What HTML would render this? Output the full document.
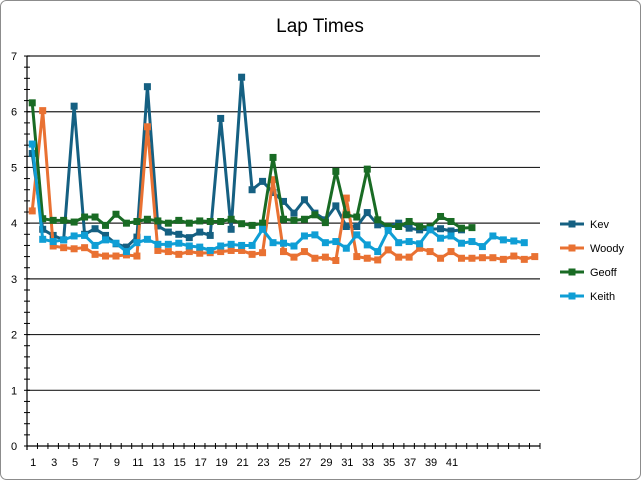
<!DOCTYPE html>
<html><head><style>body{margin:0;background:#fff}svg{display:block;font-family:"Liberation Sans",sans-serif}</style></head>
<body>
<svg id="c" width="641" height="480" xmlns="http://www.w3.org/2000/svg">
<rect x="0.5" y="0.5" width="640" height="479" rx="6" fill="#fff" stroke="#8c8c8c"/>
<text x="320" y="32" font-size="19" text-anchor="middle" fill="#000">Lap Times</text>
<g id="g"></g>
</svg>
<script>
const g=document.getElementById('g');
const X0=27,X1=540,Y0=446,U=55.71,N=49,W=(X1-X0)/N;
const cx=n=>X0+W/2+(n-1)*W, cy=v=>Y0-v*U;
let s='';
for(let i=1;i<=7;i++)s+=`<line x1="${X0}" x2="${X1}" y1="${cy(i)}" y2="${cy(i)}" stroke="#222" stroke-width="1.2"/>`;
for(let i=0;i<=7;i++)s+=`<text x="14" y="${cy(i)+4}" font-size="11" text-anchor="middle">${i}</text>`;
for(let i=0;i<=35;i++){const y=Y0-i*U/5;s+=`<line x1="${X0-3}" x2="${X0+3}" y1="${y}" y2="${y}" stroke="#000"/>`}
s+=`<line x1="${X0}" x2="${X0}" y1="${cy(7)}" y2="${Y0+4}" stroke="#000" stroke-width="1.2"/>`;
s+=`<line x1="${X0}" x2="${X1}" y1="${Y0}" y2="${Y0}" stroke="#000" stroke-width="1.2"/>`;
for(let i=0;i<=N;i++){const x=X0+i*W;s+=`<line x1="${x}" x2="${x}" y1="${Y0-3}" y2="${Y0+3}" stroke="#000"/>`}
for(let n=1;n<=41;n+=2)s+=`<text x="${cx(n)+1}" y="466" font-size="11" text-anchor="middle">${n}</text>`;
const D={
Kev:['#156082',[5.25,3.89,3.78,3.7,6.1,3.8,3.9,3.78,3.63,3.57,3.75,6.45,3.95,3.84,3.8,3.74,3.84,3.78,5.88,3.89,6.62,4.6,4.75,4.55,4.39,4.18,4.42,4.18,4.06,4.31,3.94,3.94,4.19,3.97,3.94,4.0,3.91,3.88,3.89,3.9,3.86,3.88]],
Woody:['#e97132',[4.22,6.02,3.59,3.56,3.54,3.56,3.44,3.41,3.41,3.43,3.41,5.73,3.51,3.49,3.44,3.49,3.46,3.47,3.49,3.51,3.51,3.44,3.47,4.78,3.49,3.39,3.49,3.37,3.39,3.33,4.45,3.4,3.37,3.34,3.52,3.39,3.39,3.55,3.49,3.37,3.49,3.37,3.37,3.38,3.38,3.35,3.41,3.35,3.4]],
Geoff:['#196b24',[6.16,4.08,4.05,4.05,4.02,4.11,4.11,3.96,4.16,4.0,4.03,4.07,4.04,4.0,4.05,4.0,4.04,4.03,4.03,4.07,3.99,3.96,4.0,5.18,4.07,4.05,4.07,4.15,4.01,4.93,4.15,4.11,4.97,4.06,3.94,3.94,4.03,3.94,3.93,4.12,4.03,3.91,3.92]],
Keith:['#0f9ed5',[5.42,3.71,3.67,3.7,3.77,3.78,3.6,3.7,3.64,3.49,3.65,3.71,3.62,3.62,3.64,3.59,3.57,3.51,3.59,3.62,3.6,3.6,3.89,3.65,3.64,3.59,3.77,3.79,3.65,3.67,3.55,3.79,3.61,3.49,3.87,3.65,3.67,3.63,3.88,3.73,3.77,3.64,3.67,3.58,3.77,3.7,3.68,3.65]]};
let li=0;
for(const k in D){const [c,a]=D[k];
 s+=`<polyline fill="none" stroke="${c}" stroke-width="3" stroke-linejoin="round" points="${a.map((v,i)=>cx(i+1)+','+cy(v)).join(' ')}"/>`;
 a.forEach((v,i)=>s+=`<rect x="${cx(i+1)-3.5}" y="${cy(v)-3.5}" width="7" height="7" fill="${c}"/>`);
 const ly=224+li*24;
 s+=`<line x1="560" x2="584" y1="${ly}" y2="${ly}" stroke="${c}" stroke-width="3"/><rect x="568.5" y="${ly-3.5}" width="7" height="7" fill="${c}"/><text x="590" y="${ly+4}" font-size="11">${k}</text>`;
 li++;}
g.innerHTML=s;
</script>
</body></html>
